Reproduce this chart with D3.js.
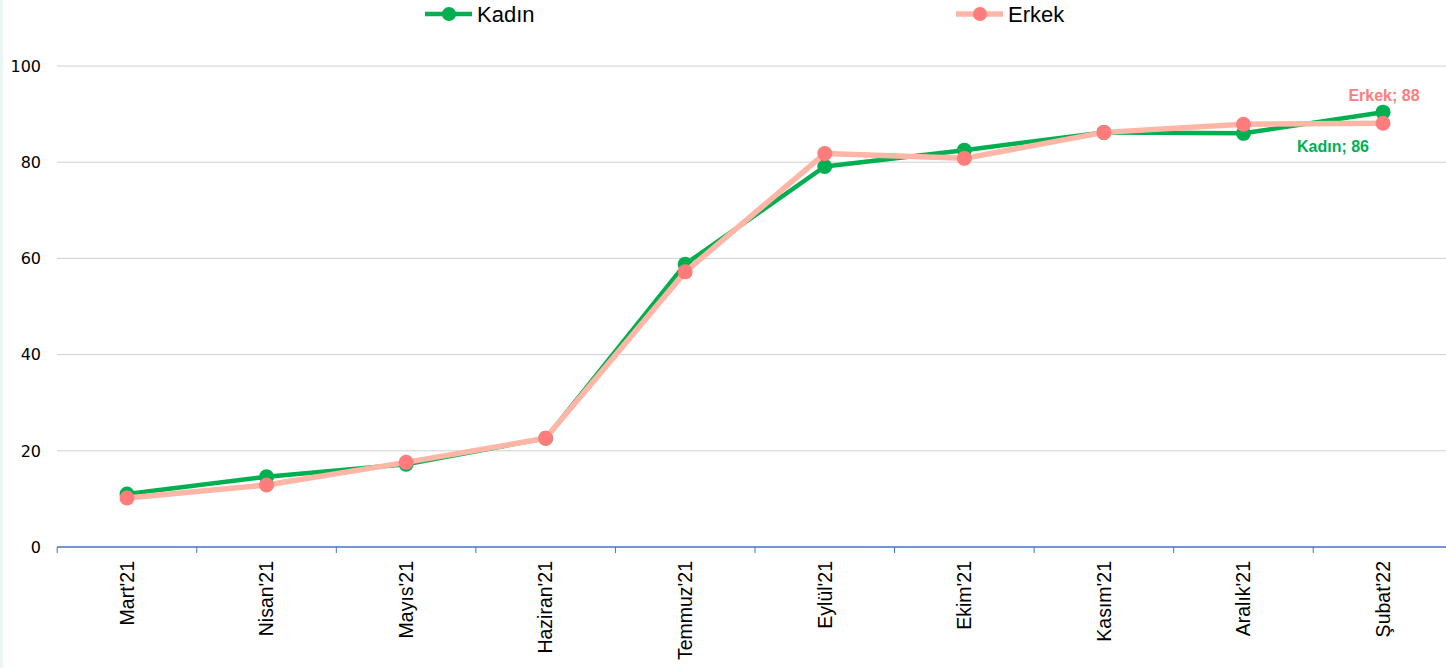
<!DOCTYPE html>
<html><head><meta charset="utf-8">
<script src="https://cdn.jsdelivr.net/npm/d3@7"></script>
<style>
html,body{margin:0;padding:0;background:#fff;}
svg{display:block;}
</style></head>
<body>
<svg id="chart" width="1446" height="668"></svg>
<script>
const categories = ["Mart'21","Nisan'21","Mayıs'21","Haziran'21","Temmuz'21","Eylül'21","Ekim'21","Kasım'21","Aralık'21","Şubat'22"];
const kadin = [11.0, 14.6, 17.2, 22.6, 58.8, 79.1, 82.5, 86.2, 86.0, 90.4];
const erkek = [10.2, 12.9, 17.6, 22.6, 57.2, 81.8, 80.8, 86.2, 87.9, 88.1];
const yTicks = [0, 20, 40, 60, 80, 100];
const seriesNames = ["Kadın", "Erkek"];
const labelTexts = ["Kadın; 86", "Erkek; 88"];

const W = 1446, H = 668;
const svg = d3.select("#chart");
svg.append("rect").attr("x",0).attr("y",0).attr("width",3).attr("height",H).attr("fill","#e9f6f3");

const x = d3.scaleBand().domain(categories).range([57.2, 1452.8]);
const y = d3.scaleLinear().domain([0, 100]).range([547, 66]);

// gridlines
svg.append("g").selectAll("line").data(yTicks.filter(d => d > 0)).join("line")
  .attr("x1", 57).attr("x2", W).attr("y1", d => y(d)).attr("y2", d => y(d))
  .attr("stroke", "#cfcfcf").attr("stroke-width", 1);

// y labels
svg.append("g").selectAll("text").data(yTicks).join("text")
  .attr("x", 41).attr("y", d => y(d)).attr("dy", "0.36em")
  .attr("text-anchor", "end").attr("font-family", "DejaVu Sans").attr("font-size", 16)
  .attr("fill", "#000").text(d => d);

// x axis
const xAxis = svg.append("g").attr("transform", `translate(0,${y(0)})`);
xAxis.append("line").attr("x1", 57).attr("x2", W).attr("y1", 0).attr("y2", 0)
  .attr("stroke", "#4472C4").attr("stroke-width", 1.3);
const bounds = categories.map(c => x(c)).concat([x(categories[categories.length-1]) + x.bandwidth()]);
xAxis.selectAll("line.tick").data(bounds).join("line").attr("class","tick")
  .attr("x1", d => d).attr("x2", d => d).attr("y1", 0).attr("y2", 6)
  .attr("stroke", "#4472C4").attr("stroke-width", 1);
xAxis.selectAll("text").data(categories).join("text")
  .attr("transform", d => `translate(${x(d) + x.bandwidth()/2},14) rotate(-90)`)
  .attr("text-anchor", "end").attr("dy", "0.35em")
  .attr("font-family", "Liberation Sans, Arial").attr("font-size", 19.5)
  .attr("fill", "#000").text(d => d);

const cx = d => x(d) + x.bandwidth()/2;
const line = d3.line().x((d,i) => cx(categories[i])).y(d => y(d));

const styles = [
  {data: kadin, line: "#00B050", lw: 4.5, mark: "#00B050"},
  {data: erkek, line: "#FFB6A6", lw: 5.5, mark: "#FF7C7C"}
];
styles.forEach(s => {
  svg.append("path").datum(s.data).attr("d", line).attr("fill", "none")
    .attr("stroke", s.line).attr("stroke-width", s.lw).attr("stroke-linejoin", "round");
  svg.append("g").selectAll("circle").data(s.data).join("circle")
    .attr("cx", (d,i) => cx(categories[i])).attr("cy", d => y(d)).attr("r", 7.5)
    .attr("fill", s.mark);
});

// data labels
const last = categories.length - 1;
svg.append("text").attr("x", cx(categories[last]) + 1).attr("y", y(erkek[last]) - 22)
  .attr("text-anchor", "middle").attr("font-family", "Liberation Sans, Arial").attr("font-weight", "bold")
  .attr("font-size", 16).attr("fill", "#FF7C7C").text(labelTexts[1]);
svg.append("text").attr("x", cx(categories[last]) - 50).attr("y", y(kadin[last]) + 40)
  .attr("text-anchor", "middle").attr("font-family", "Liberation Sans, Arial").attr("font-weight", "bold")
  .attr("font-size", 16).attr("fill", "#00B050").text(labelTexts[0]);

// legend
const legend = [{name: seriesNames[0], x: 425, c: styles[0]}, {name: seriesNames[1], x: 956, c: styles[1]}];
const lg = svg.append("g").selectAll("g").data(legend).join("g")
  .attr("transform", d => `translate(${d.x},14)`);
lg.append("line").attr("x1", 0).attr("x2", 47).attr("y1", 0).attr("y2", 0)
  .attr("stroke", d => d.c.line).attr("stroke-width", d => d.c.lw);
lg.append("circle").attr("cx", 24).attr("cy", 0).attr("r", 7).attr("fill", d => d.c.mark);
lg.append("text").attr("x", 52).attr("y", 0).attr("dy", "0.35em")
  .attr("font-family", "Liberation Sans, Arial").attr("font-size", 22).attr("fill", "#000")
  .text(d => d.name);
</script>
</body></html>
